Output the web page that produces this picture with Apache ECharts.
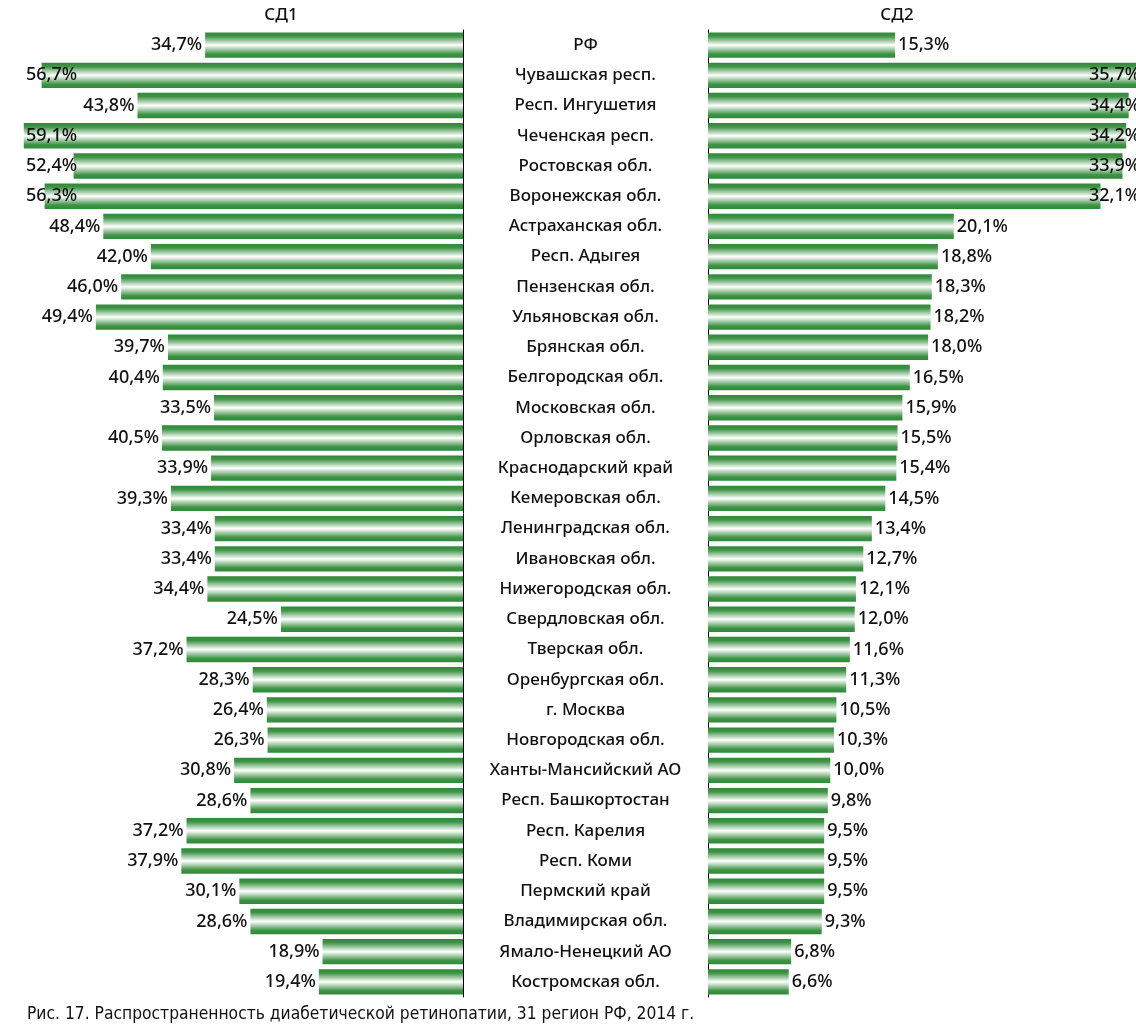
<!DOCTYPE html>
<html>
<head>
<meta charset="utf-8">
<script src="https://cdn.jsdelivr.net/npm/echarts@6/dist/echarts.min.js"></script>
<style>html,body{margin:0;padding:0;background:#fff;}#c{width:1136px;height:1034px;}</style>
</head>
<body>
<div id="c"></div>
<script>
const categories = ['РФ','Чувашская респ.','Респ. Ингушетия','Чеченская респ.','Ростовская обл.','Воронежская обл.','Астраханская обл.','Респ. Адыгея','Пензенская обл.','Ульяновская обл.','Брянская обл.','Белгородская обл.','Московская обл.','Орловская обл.','Краснодарский край','Кемеровская обл.','Ленинградская обл.','Ивановская обл.','Нижегородская обл.','Свердловская обл.','Тверская обл.','Оренбургская обл.','г. Москва','Новгородская обл.','Ханты-Мансийский АО','Респ. Башкортостан','Респ. Карелия','Респ. Коми','Пермский край','Владимирская обл.','Ямало-Ненецкий АО','Костромская обл.'];
const sd1 = [34.7,56.7,43.8,59.1,52.4,56.3,48.4,42.0,46.0,49.4,39.7,40.4,33.5,40.5,33.9,39.3,33.4,33.4,34.4,24.5,37.2,28.3,26.4,26.3,30.8,28.6,37.2,37.9,30.1,28.6,18.9,19.4];
const sd2 = [15.3,35.7,34.4,34.2,33.9,32.1,20.1,18.8,18.3,18.2,18.0,16.5,15.9,15.5,15.4,14.5,13.4,12.7,12.1,12.0,11.6,11.3,10.5,10.3,10.0,9.8,9.5,9.5,9.5,9.3,6.8,6.6];
const titles = ['СД1','СД2'];
const caption = 'Рис. 17. Распространенность диабетической ретинопатии, 31 регион РФ, 2014 г.';

const FONT = 'Noto Sans';
const grad = new echarts.graphic.LinearGradient(0,0,0,1,[
  {offset:0,color:'#2e8938'},
  {offset:0.15,color:'#3f9346'},
  {offset:0.5,color:'#ffffff'},
  {offset:0.85,color:'#3f9346'},
  {offset:1,color:'#2e8938'}
]);
const fmt = p => p.value.toFixed(1).replace('.', ',') + '%';
const labelStyle = {show:true, formatter: fmt, color:'#111', fontFamily: FONT, fontSize:18, fontWeight:500, distance:3};
const midY = p => p.rect.y + p.rect.height / 2;

const chart = echarts.init(document.getElementById('c'));
chart.setOption({
  animation:false,
  title:[
    {text:titles[0], left:276, top:2, textAlign:'center', textStyle:{fontFamily:FONT, fontSize:17, fontWeight:500, color:'#111'}},
    {text:titles[1], left:892, top:2, textAlign:'center', textStyle:{fontFamily:FONT, fontSize:17, fontWeight:500, color:'#111'}},
    {text:caption, left:22, top:1001, textStyle:{fontFamily:'DejaVu Sans Condensed', fontSize:17.3, fontWeight:'normal', color:'#111'}}
  ],
  grid:[
    {left:0, width:463, top:30, height:967},
    {left:708, width:428, top:30, height:967}
  ],
  xAxis:[
    {gridIndex:0, type:'value', inverse:true, min:0, max:62.3, show:false},
    {gridIndex:1, type:'value', min:0, max:35, show:false}
  ],
  yAxis:[
    {gridIndex:0, type:'category', data:categories, inverse:true, position:'right',
     axisLine:{show:true, lineStyle:{color:'#000', width:1}}, axisTick:{show:false},
     axisLabel:{show:true, align:'center', margin:122.5, color:'#111', fontFamily:FONT, fontSize:17, fontWeight:500}},
    {gridIndex:1, type:'category', data:categories, inverse:true, position:'left',
     axisLine:{show:true, lineStyle:{color:'#000', width:1}}, axisTick:{show:false},
     axisLabel:{show:false}}
  ],
  series:[
    {type:'bar', xAxisIndex:0, yAxisIndex:0, data:sd1, barCategoryGap:'16%',
     itemStyle:{color:grad}, label:Object.assign({position:'left'}, labelStyle),
     labelLayout: p => (sd1[p.dataIndex] >= 50 ? {x:26, y:midY(p), align:'left', verticalAlign:'middle'} : null)},
    {type:'bar', xAxisIndex:1, yAxisIndex:1, data:sd2, barCategoryGap:'16%', clip:true,
     itemStyle:{color:grad}, label:Object.assign({position:'right'}, labelStyle),
     labelLayout: p => (sd2[p.dataIndex] >= 30 ? {x:1089, y:midY(p), align:'left', verticalAlign:'middle'} : null)}
  ]
});
</script>
</body>
</html>
